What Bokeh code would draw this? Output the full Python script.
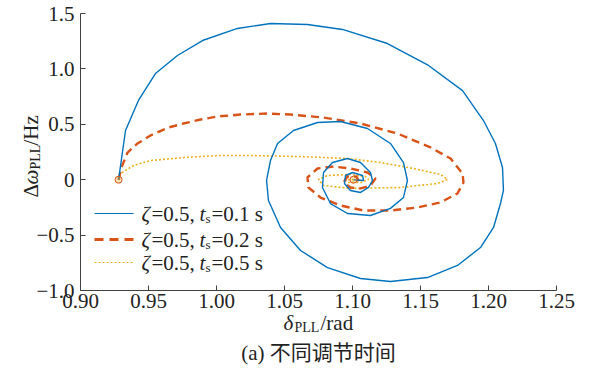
import math
from bokeh.plotting import figure
from bokeh.models import Label, Arrow, FixedTicker, LinearAxis, Range1d
from bokeh.embed import file_html
from bokeh.resources import INLINE

# ---- data ----
blue_x = [0.928, 0.9331, 0.9426, 0.9551, 0.9713, 0.9897, 1.0154, 1.0397, 1.0669, 1.0926,
          1.1257, 1.1559, 1.1809, 1.1963, 1.2051, 1.2103, 1.2110, 1.2088, 1.2037, 1.1941,
          1.1772, 1.1551, 1.1279, 1.1059, 1.0816, 1.0618, 1.0471, 1.0382, 1.0368, 1.0397,
          1.0449, 1.0566, 1.0743, 1.0912, 1.1110, 1.1279, 1.1375, 1.1404, 1.1375, 1.1279,
          1.1132, 1.0963, 1.0838, 1.0779, 1.0787, 1.0853, 1.0963, 1.1059, 1.1132, 1.1147,
          1.1118, 1.1059, 1.0985, 1.0941, 1.0949, 1.1000, 1.1074, 1.1081, 1.1007]
blue_y = [0.0, 0.444, 0.715, 0.958, 1.121, 1.256, 1.365, 1.410, 1.401, 1.356,
          1.229, 1.031, 0.804, 0.534, 0.327, 0.110, -0.097, -0.215, -0.431, -0.612,
          -0.774, -0.883, -0.919, -0.892, -0.793, -0.639, -0.431, -0.188, -0.007, 0.173,
          0.327, 0.444, 0.516, 0.525, 0.462, 0.327, 0.155, -0.007, -0.160, -0.259,
          -0.323, -0.305, -0.215, -0.070, 0.065, 0.155, 0.191, 0.155, 0.065, -0.007,
          -0.070, -0.115, -0.097, -0.034, 0.038, 0.065, 0.038, -0.007, 0.0]

red_x = [0.928, 0.9301, 0.9346, 0.9419, 0.9515, 0.9647, 0.9757, 0.9882, 1.0007, 1.0176,
         1.0375, 1.0544, 1.0787, 1.1059, 1.1331, 1.1574, 1.1721, 1.1809, 1.1816, 1.1772,
         1.1647, 1.1478, 1.1279, 1.1081, 1.0912, 1.0765, 1.0676, 1.0669, 1.0743, 1.0860,
         1.0985, 1.1110, 1.1169, 1.1132, 1.1059, 1.0985, 1.0934, 1.0963, 1.1029, 1.1044,
         1.1007]
red_y = [0.0, 0.110, 0.245, 0.327, 0.399, 0.471, 0.507, 0.543, 0.570, 0.588,
         0.597, 0.588, 0.561, 0.507, 0.417, 0.291, 0.191, 0.056, -0.025, -0.124,
         -0.205, -0.251, -0.278, -0.278, -0.233, -0.161, -0.070, 0.020, 0.101, 0.119,
         0.101, 0.065, 0.011, -0.052, -0.079, -0.070, -0.025, 0.029, 0.029, -0.007,
         0.0]

orange_x = [0.928, 0.9294, 0.9390, 0.9515, 0.9757, 1.0007, 1.0250, 1.0618, 1.0963, 1.1206,
            1.1449, 1.1647, 1.1699, 1.1625, 1.1353, 1.0985, 1.0787, 1.0750, 1.0816, 1.0985,
            1.1096, 1.1118, 1.1059, 1.0971, 1.0934, 1.1007]
orange_y = [0.0, 0.056, 0.128, 0.173, 0.200, 0.218, 0.218, 0.209, 0.191, 0.155,
            0.101, 0.047, 0.002, -0.034, -0.070, -0.079, -0.052, 0.002, 0.038, 0.047,
            0.029, 0.002, -0.025, -0.025, 0.002, 0.0]

marker_x = [0.928, 1.1007]
marker_y = [0.0, 0.0]

x_min, x_max = 0.90, 1.25
y_min, y_max = -1.0, 1.5
x_ticks = [0.90, 0.95, 1.00, 1.05, 1.10, 1.15, 1.20, 1.25]
x_tick_labels = ["0.90", "0.95", "1.00", "1.05", "1.10", "1.15", "1.20", "1.25"]
y_ticks = [-1.0, -0.5, 0.0, 0.5, 1.0, 1.5]
y_tick_labels = ["\u22121.0", "\u22120.5", "0", "0.5", "1.0", "1.5"]

series_zeta = ["0.5", "0.5", "0.5"]
series_ts = ["0.1", "0.2", "0.5"]
colors = ["#0072BD", "#D95319", "#EDB120"]

# ---- layout (pixels) ----
W, H = 600, 375
AX_L, AX_R, AX_T, AX_B = 80, 556, 13, 290   # pixel box of the axes
SERIF = "Liberation Serif"
FS = "21px"
SUB = "14px"
TXT = "#222222"

sx = (AX_R - AX_L) / (x_max - x_min)
sy = (AX_B - AX_T) / (y_max - y_min)
xr = Range1d(x_min - AX_L / sx, x_min - AX_L / sx + W / sx)
yr = Range1d(y_max + AX_T / sy - H / sy, y_max + AX_T / sy)

p = figure(width=W, height=H, x_range=xr, y_range=yr,
           output_backend="svg", toolbar_location=None,
           x_axis_location=None, y_axis_location=None,
           min_border=0, min_border_left=0, min_border_right=0,
           min_border_top=0, min_border_bottom=0)
p.xgrid.visible = False
p.ygrid.visible = False
p.outline_line_color = None
p.background_fill_color = "white"
p.border_fill_color = "white"

xaxis = LinearAxis(fixed_location=y_min, bounds=(x_min, x_max))
yaxis = LinearAxis(fixed_location=x_min, bounds=(y_min, y_max))
p.add_layout(xaxis, "below")
p.add_layout(yaxis, "left")
for ax, ticks, labels in ((xaxis, x_ticks, x_tick_labels), (yaxis, y_ticks, y_tick_labels)):
    ax.ticker = FixedTicker(ticks=ticks)
    ax.major_label_overrides = {t: l for t, l in zip(ticks, labels)}
    ax.major_tick_in = 5
    ax.major_tick_out = 0
    ax.minor_tick_line_color = None
    ax.axis_line_color = "#404040"
    ax.major_tick_line_color = "#404040"
    ax.major_label_text_font = SERIF
    ax.major_label_text_font_size = FS
    ax.major_label_text_color = TXT
xaxis.major_label_standoff = 3
yaxis.major_label_standoff = 6

p.line(orange_x, orange_y, line_color=colors[2], line_width=1.6, line_dash="2 2")
p.line(red_x, red_y, line_color=colors[1], line_width=2.4, line_dash="8 5")
p.line(blue_x, blue_y, line_color=colors[0], line_width=1.4)
p.scatter(marker_x, marker_y, size=7, marker="circle", fill_color=colors[2], fill_alpha=0.35,
          line_color=colors[1], line_width=1)


def label(text, x, y, style="normal", size=FS, angle=0.0, align="left", font=SERIF):
    p.add_layout(Label(x=x, y=H - y, x_units="screen", y_units="screen", text=text, angle=angle,
                       text_font=font, text_font_size=size, text_font_style=style,
                       text_baseline="middle", text_align=align, text_color=TXT))


# ---- legend (manual, with italic/subscript pieces); y in pixels from top ----
dashes = ["solid", "9 6", "2 2"]
widths = [1.2, 3.0, 1.2]
row_y = [213, 239, 262]
for i in range(3):
    p.add_layout(Arrow(end=None, x_start=94, y_start=H - row_y[i], x_end=133, y_end=H - row_y[i],
                       start_units="screen", end_units="screen",
                       line_color=colors[i], line_width=widths[i], line_dash=dashes[i]))
    label("\u03b6", 141, row_y[i], "italic")
    label("=" + series_zeta[i] + ",", 151, row_y[i])
    label("t", 199, row_y[i], "italic")
    label("s", 205, row_y[i] + 5, size="13px")
    label("=" + series_ts[i] + " s", 211, row_y[i])

# ---- y axis label: Δω_PLL/Hz (rotated, reading upward) ----
ang = math.pi / 2
p.add_layout(Label(x=30, y=H - 197, x_units="screen", y_units="screen", text="\u0394", angle=ang,
                   text_font=SERIF, text_font_size=FS, text_baseline="middle", text_color=TXT))
p.add_layout(Label(x=30, y=H - 184, x_units="screen", y_units="screen", text="\u03c9", angle=ang,
                   text_font=SERIF, text_font_size=FS, text_font_style="italic",
                   text_baseline="middle", text_color=TXT))
p.add_layout(Label(x=35, y=H - 169, x_units="screen", y_units="screen", text="PLL", angle=ang,
                   text_font=SERIF, text_font_size=SUB, text_baseline="middle", text_color=TXT))
p.add_layout(Label(x=30, y=H - 145, x_units="screen", y_units="screen", text="/Hz", angle=ang,
                   text_font=SERIF, text_font_size=FS, text_baseline="middle", text_color=TXT))

# ---- x axis label: δ_PLL/rad ----
label("\u03b4", 283, 322, "italic")
label("PLL", 294, 327, size=SUB)
label("/rad", 320, 322)

# ---- caption ----
label("(a) 不同调节时间", (AX_L + AX_R) / 2, 352, size=FS, align="center",
      font="Liberation Serif, Noto Sans CJK SC")

open("out.html", "w").write(file_html(p, INLINE))
